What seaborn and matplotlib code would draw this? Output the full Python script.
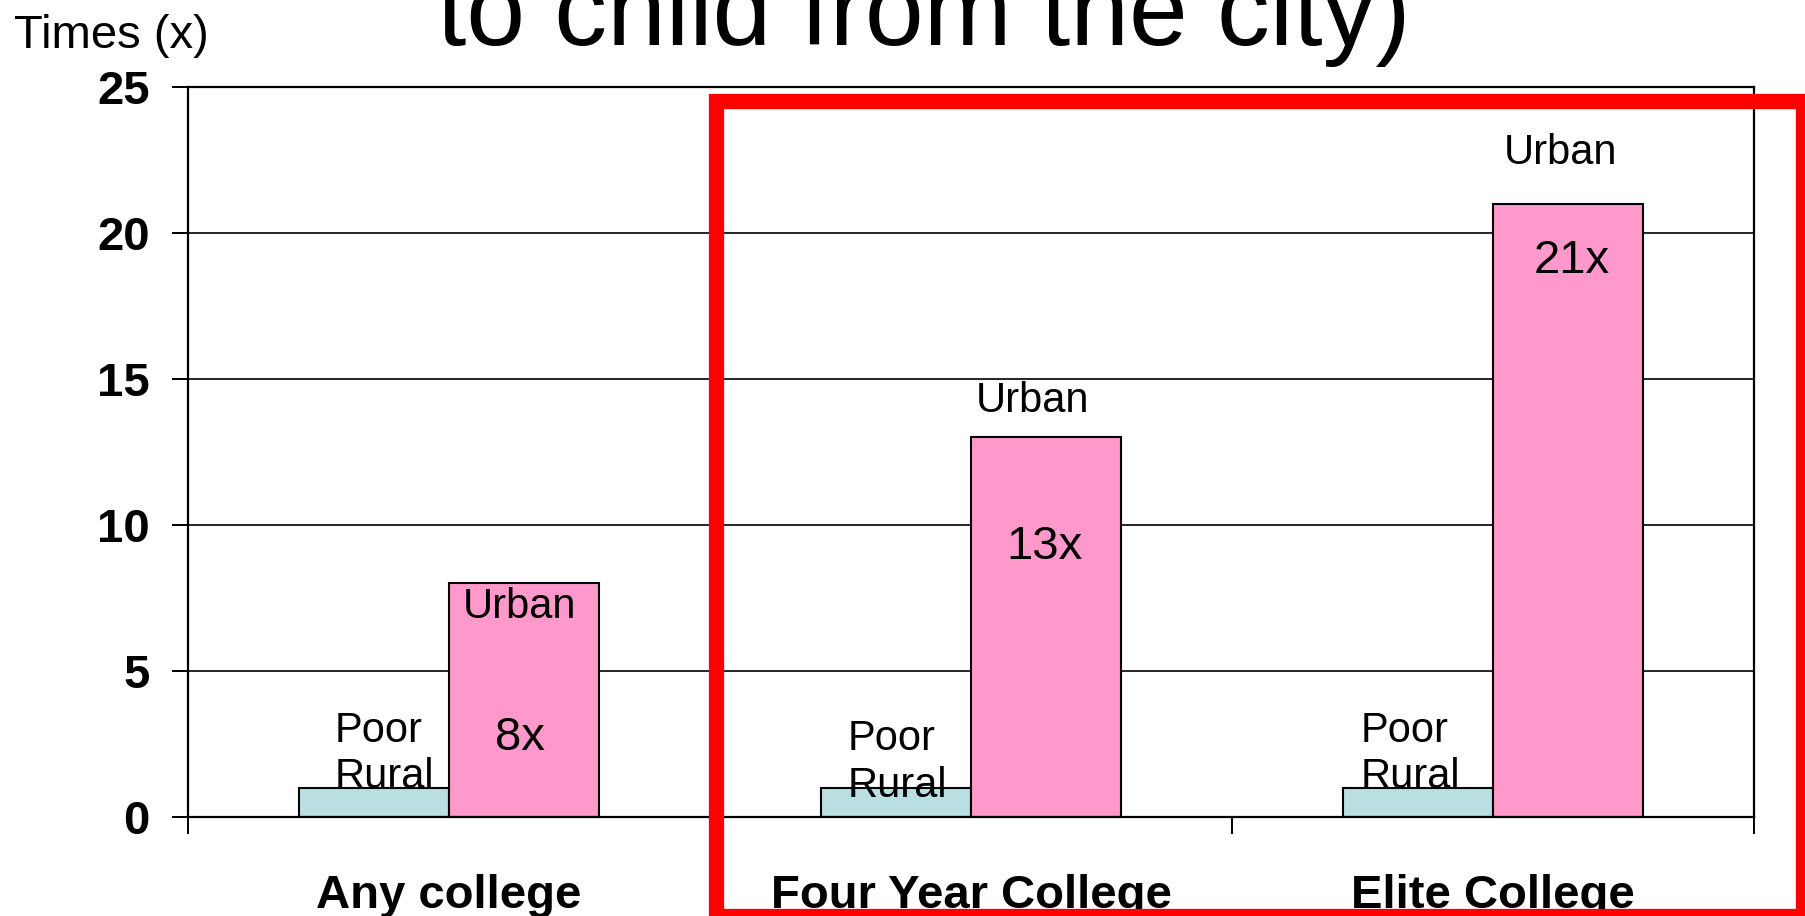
import pandas as pd
import matplotlib
matplotlib.use('Agg')
import matplotlib.pyplot as plt
import matplotlib.patches as patches
import seaborn as sns

# data
categories = ['Any college', 'Four Year College', 'Elite College']
groups = ['Poor Rural', 'Urban']
rural_values = [1, 1, 1]
urban_values = [8, 13, 21]
value_labels = ['8x', '13x', '21x']

# annotation placement (data y of text baselines, x offsets in category units)
urban_label_y = [6.8, 13.88, 22.37]
urban_label_dx = [-0.008, -0.026, -0.014]
value_label_y = [2.29, 8.82, 18.64]
value_label_dx = [-0.008, -0.002, 0.008]
rural_label_y = [1.0, 0.7, 1.0]
rural_label_dx = [0.02, 0.002, -0.014]

df = pd.DataFrame({
    'category': categories * 2,
    'group': [groups[0]] * 3 + [groups[1]] * 3,
    'value': rural_values + urban_values,
})

sns.set_style('white')
plt.rcParams['font.family'] = ['Liberation Sans', 'DejaVu Sans']
plt.rcParams['text.color'] = 'black'
plt.rcParams['xtick.color'] = 'black'
plt.rcParams['ytick.color'] = 'black'
plt.rcParams['axes.labelcolor'] = 'black'

fig = plt.figure(figsize=(18.05, 9.16), dpi=100)
ax = fig.add_axes([188 / 1805, 1 - 817 / 916, (1754 - 188) / 1805, (817 - 87) / 916])

sns.barplot(data=df, x='category', y='value', hue='group', order=categories,
            hue_order=groups, palette={'Poor Rural': '#BADFE2', 'Urban': '#FF99CC'},
            width=0.574, edgecolor='black', linewidth=1.5, saturation=1,
            legend=False, ax=ax)

ax.set_ylim(0, 25)
ax.set_xlim(-0.5, 2.5)
ax.set_yticks([0, 5, 10, 15, 20, 25])
ax.set_axisbelow(True)
ax.yaxis.grid(True, color='black', linewidth=1.2)
ax.set_xlabel('')
ax.set_ylabel('')

for side in ['left', 'bottom', 'right', 'top']:
    ax.spines[side].set_visible(True)
    ax.spines[side].set_color('black')
    ax.spines[side].set_linewidth(1.6)

ax.tick_params(axis='y', left=True, direction='out', length=11.5, width=1.4, pad=16,
               labelsize=34, color='black', labelcolor='black')
for lab in ax.get_yticklabels():
    lab.set_fontweight('bold')

ax.set_xticks([-0.5, 0.5, 1.5, 2.5], minor=True)
ax.tick_params(axis='x', which='minor', bottom=True, direction='out', length=12,
               width=1.4, color='black')
ax.tick_params(axis='x', which='major', bottom=True, length=0, pad=41, labelsize=34,
               labelcolor='black')
for lab in ax.get_xticklabels():
    lab.set_fontweight('bold')

# bars come out in hue order: rural bars first, then urban
bars = ax.patches
rural_bars = bars[:3]
urban_bars = bars[3:6]

for i in range(3):
    rb = rural_bars[i]
    rx = rb.get_x() + rb.get_width() / 2 + rural_label_dx[i]
    ax.text(rx, rural_label_y[i], 'Poor\nRural', ha='center', va='baseline',
            multialignment='left', fontsize=30, linespacing=1.2, color='black')

    ub = urban_bars[i]
    ux = ub.get_x() + ub.get_width() / 2
    ax.text(ux + urban_label_dx[i], urban_label_y[i], 'Urban', ha='center',
            va='baseline', fontsize=30, color='black')
    ax.text(ux + value_label_dx[i], value_label_y[i], value_labels[i], ha='center',
            va='baseline', fontsize=34, color='black')

fig.text(14 / 1805, 1 - 48 / 916, 'Times (x)', fontsize=34, ha='left', va='baseline',
         color='black')
# second line of the slide title, partly cut off at the top as in the original
fig.text(0.5116, 1 - 45 / 916, 'to child from the city)', fontsize=76,
         ha='center', va='baseline', color='black')

# red highlight box around the last two groups
fig.add_artist(patches.Rectangle((716 / 1805, -0.0005), (1803.5 - 716) / 1805,
                                 (916.5 - 101) / 916, transform=fig.transFigure,
                                 fill=False, edgecolor='#FF0000', linewidth=11,
                                 clip_on=False))

fig.savefig('out.png', dpi=100)
